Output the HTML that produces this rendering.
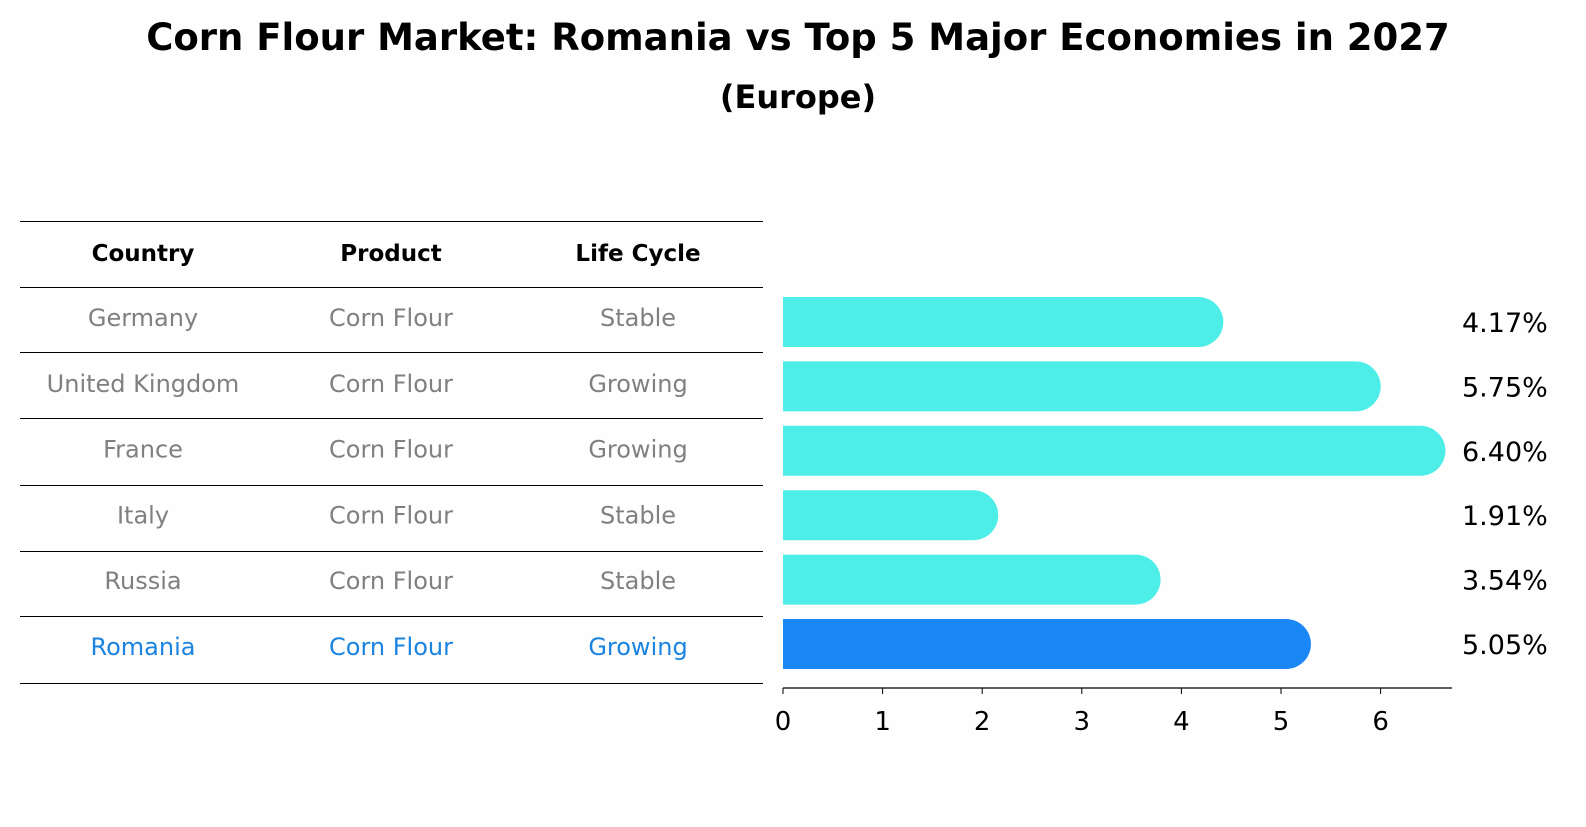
<!DOCTYPE html>
<html><head><meta charset="utf-8"><style>
body{margin:0;background:#fefefe;width:1586px;height:823px;overflow:hidden;font-family:"DejaVu Sans","Liberation Sans",sans-serif}
</style></head><body>
<svg width="1586" height="823" xmlns="http://www.w3.org/2000/svg" font-family="DejaVu Sans, Liberation Sans, sans-serif">
<text x="798" y="50" text-anchor="middle" font-size="37" font-weight="bold">Corn Flour Market: Romania vs Top 5 Major Economies in 2027</text>
<text x="798" y="108" text-anchor="middle" font-size="32" font-weight="bold">(Europe)</text>
<g id="table"></g>
<g id="bars"></g>
</svg>
<script>
const countries=["Germany","United Kingdom","France","Italy","Russia","Romania"];
const products=["Corn Flour","Corn Flour","Corn Flour","Corn Flour","Corn Flour","Corn Flour"];
const cycles=["Stable","Growing","Growing","Stable","Stable","Growing"];
const values=[4.17,5.75,6.40,1.91,3.54,5.05];
const ticks=[0,1,2,3,4,5,6];
const NS="http://www.w3.org/2000/svg";
function mk(t,a,p){const e=document.createElementNS(NS,t);for(const k in a)e.setAttribute(k,a[k]);p.appendChild(e);return e;}
const tb=document.getElementById('table');
const lineYs=[221,287,352,418,485,551,616,683];
lineYs.forEach(y=>{const l=mk('line',{x1:20,x2:763,y1:y+0.5,y2:y+0.5,stroke:'#000','stroke-width':1},tb);

});
const colX=[143,391,638];
["Country","Product","Life Cycle"].forEach((h,i)=>{const t=mk('text',{x:colX[i],y:261,'text-anchor':'middle','font-size':23,'font-weight':'bold'},tb);t.textContent=h;

});
function rowY(i){return 318+i*65.8;}
countries.forEach((c,i)=>{const col=i===countries.length-1?'#1a84e0':'#808080';
[c,products[i],cycles[i]].forEach((v,j)=>{const t=mk('text',{x:colX[j],y:rowY(i)+8,'text-anchor':'middle','font-size':24,fill:col},tb);t.textContent=v;

});});
const g=document.getElementById('bars');
const x0=783,ppu=99.6;
function X(v){return x0+v*ppu;}
function Y(i){return 322+i*64.4;}
values.forEach((v,i)=>{const last=i===values.length-1;const col=last?'#1a87f5':'#4eeee8';const r=25;
const p=mk('path',{d:`M${X(0)},${Y(i)-r} H${X(v)} A${r},${r} 0 0 1 ${X(v)},${Y(i)+r} H${X(0)} Z`,fill:col},g);


const t=mk('text',{x:1462,y:Y(i)+10,'font-size':27},g);t.textContent=v.toFixed(2)+'%';

});
const ax=mk('line',{x1:783,x2:1452,y1:688,y2:688,stroke:'#000','stroke-width':1.2},g);


ticks.forEach(tv=>{const l=mk('line',{x1:X(tv),x2:X(tv),y1:688,y2:694,stroke:'#000'},g);


const t=mk('text',{x:X(tv),y:730,'text-anchor':'middle','font-size':26},g);t.textContent=tv;

});
</script>
</body></html>
